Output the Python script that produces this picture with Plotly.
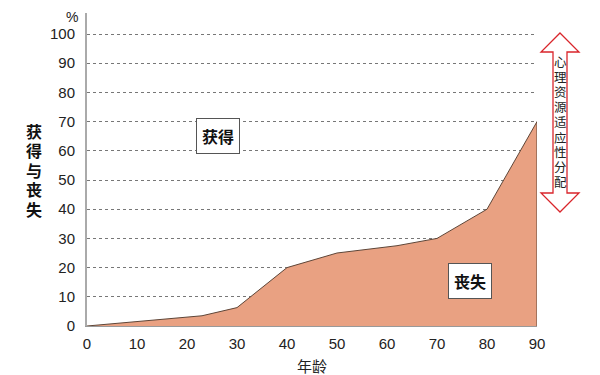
import plotly.graph_objects as go

ages = [0, 10, 23, 30, 40, 50, 62, 70, 80, 90]
loss = [0, 1.5, 3.5, 6.3, 20, 25, 27.5, 30, 40, 70]
y_ticks = [0, 10, 20, 30, 40, 50, 60, 70, 80, 90, 100]
x_ticks = [0, 10, 20, 30, 40, 50, 60, 70, 80, 90]
y_title = "获得与丧失"
x_title = "年龄"
gain_label = "获得"
loss_label = "丧失"
side_label = "心理资源适应性分配"

FONT = "Liberation Sans, Noto Sans CJK SC, sans-serif"
CJK = "Noto Sans CJK SC, sans-serif"

OFF = 8  # page body margin
W, H = 600 - OFF, 375 - OFF
L, T = 87 - OFF, 13 - OFF
R = W - (537 - OFF)
B = H - (326 - OFF)
pw, ph = W - L - R, H - T - B


def px(x):
    return (x - OFF - L) / pw


def py(y):
    return (H - B - (y - OFF)) / ph


fig = go.Figure()
fig.add_trace(go.Scatter(
    x=ages, y=loss, mode="lines", fill="tozeroy",
    fillcolor="#E9A182", line=dict(color="#5e4638", width=1),
    hoverinfo="skip", showlegend=False))

shapes = []
shapes.append(dict(type="line", xref="x", yref="y", x0=ages[-1], x1=ages[-1],
                   y0=0, y1=loss[-1], line=dict(color="#5e4638", width=1)))

tip_top, head_top, head_bot, tip_bot = 33, 52, 193, 212
xc, hw, sw = 560, 19, 7
pts = [(xc, tip_top), (xc + hw, head_top), (xc + sw, head_top), (xc + sw, head_bot),
       (xc + hw, head_bot), (xc, tip_bot), (xc - hw, head_bot), (xc - sw, head_bot),
       (xc - sw, head_top), (xc - hw, head_top)]
path = "M " + " L ".join(f"{px(a):.5f} {py(b):.5f}" for a, b in pts) + " Z"
shapes.append(dict(type="path", xref="paper", yref="paper", path=path,
                   fillcolor="white", line=dict(color="#d9252b", width=1.3)))

annotations = [
    dict(text="%", xref="paper", yref="paper", x=px(72), y=py(17), showarrow=False,
         font=dict(family=FONT, size=14, color="#222"), xanchor="center", yanchor="middle"),
    dict(text=x_title, xref="paper", yref="paper", x=px(312), y=py(365), showarrow=False,
         font=dict(family=CJK, size=15, color="#222"), xanchor="center", yanchor="middle"),
    dict(text=f"<b>{gain_label}</b>", xref="paper", yref="paper", x=px(218), y=py(136),
         showarrow=False, font=dict(family=CJK, size=16, color="#111"),
         bgcolor="white", bordercolor="#555", borderwidth=1, borderpad=5,
         xanchor="center", yanchor="middle"),
    dict(text=f"<b>{loss_label}</b>", xref="paper", yref="paper", x=px(470), y=py(280.5),
         showarrow=False, font=dict(family=CJK, size=16, color="#111"),
         bgcolor="white", bordercolor="#555", borderwidth=1, borderpad=5,
         xanchor="center", yanchor="middle"),
]
for i, ch in enumerate(y_title):
    annotations.append(dict(text=f"<b>{ch}</b>", xref="paper", yref="paper", x=px(34),
                            y=py(132 + 19.5 * i), showarrow=False,
                            font=dict(family=FONT, size=16, color="#111"),
                            xanchor="center", yanchor="middle", borderpad=0))
for i, ch in enumerate(side_label):
    annotations.append(dict(text=ch, xref="paper", yref="paper", x=px(560),
                            y=py(63 + 15 * i), showarrow=False,
                            font=dict(family=FONT, size=12.5, color="#222"),
                            xanchor="center", yanchor="middle", borderpad=0))

fig.update_layout(
    width=W, height=H, margin=dict(l=L, r=R, t=T, b=B),
    paper_bgcolor="white", plot_bgcolor="white",
    shapes=shapes, annotations=annotations, showlegend=False,
    xaxis=dict(range=[0, 90], tickvals=x_ticks, ticktext=[str(v) for v in x_ticks],
               showgrid=False, zeroline=False, showline=True, linecolor="#999",
               linewidth=1, ticks="", ticklabelstandoff=4,
               tickfont=dict(family=FONT, size=15, color="#222")),
    yaxis=dict(range=[0, 107.2], tickvals=y_ticks, ticktext=[str(v) for v in y_ticks],
               showgrid=True, gridcolor="#777", griddash="dot", gridwidth=1,
               zeroline=False, showline=True, linecolor="#aaa", linewidth=2,
               ticks="", ticklabelstandoff=7,
               tickfont=dict(family=FONT, size=15, color="#222")),
)

fig.write_html("out.html")
